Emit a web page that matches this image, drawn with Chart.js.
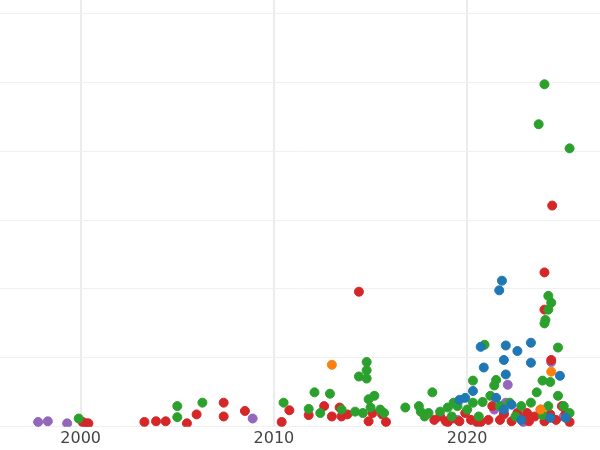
<!DOCTYPE html><html><head><script src="https://cdn.jsdelivr.net/npm/chart.js"></script>
<style>body{margin:0;overflow:hidden}#w{width:612px;height:456px;margin-left:-6px;margin-top:-6px}</style></head><body><div id="w"><canvas id="c"></canvas></div>
<script>
const xTicks=[2000,2010,2020];
const blue=[[2021.8,2.12],[2021.66,1.98],[2020.7,1.16],[2020.86,0.86],[2022.0,1.18],[2021.9,0.97],[2022.0,0.76],[2022.6,1.1],[2023.3,1.22],[2023.3,0.93],[2024.8,0.74],[2020.3,0.52],[2019.6,0.39],[2019.9,0.42],[2021.5,0.42],[2022.3,0.32],[2022.8,0.1],[2024.3,0.13],[2025.1,0.13],[2021.9,0.25]];
const orange=[[2013.0,0.9],[2024.35,0.8],[2023.8,0.25]];
const green=[[2024.0,4.97],[2023.7,4.39],[2025.3,4.04],[2024.2,1.9],[2024.35,1.8],[2024.0,1.5],[2024.05,1.55],[2024.2,1.7],[2024.7,1.15],[2020.9,1.19],[2014.8,0.94],[2014.8,0.82],[2014.8,0.7],[2014.4,0.73],[2020.3,0.67],[2021.5,0.68],[2023.9,0.67],[2024.3,0.65],[2018.2,0.5],[2017.6,0.22],[2016.8,0.28],[1999.9,0.12],[2005.0,0.3],[2005.0,0.14],[2006.3,0.35],[2010.5,0.35],[2011.8,0.26],[2012.1,0.5],[2012.9,0.48],[2012.4,0.2],[2013.5,0.25],[2014.2,0.22],[2014.6,0.2],[2014.9,0.4],[2015.2,0.45],[2015.0,0.28],[2015.5,0.25],[2015.7,0.2],[2017.5,0.3],[2017.8,0.15],[2018.0,0.2],[2018.6,0.22],[2019.0,0.28],[2019.3,0.35],[2019.5,0.3],[2020.0,0.25],[2020.3,0.35],[2020.8,0.36],[2021.2,0.45],[2021.4,0.6],[2021.7,0.3],[2022.2,0.35],[2022.8,0.3],[2023.3,0.35],[2023.6,0.5],[2024.2,0.3],[2024.7,0.45],[2025.0,0.3],[2025.3,0.2],[2019.2,0.15],[2020.6,0.15],[2022.5,0.15],[2023.9,0.17]];
const red=[[2024.4,3.21],[2024.0,2.24],[2024.0,1.7],[2024.35,0.97],[2014.4,1.96],[2000.1,0.07],[2000.4,0.05],[2003.3,0.07],[2003.9,0.08],[2004.4,0.08],[2005.5,0.05],[2006.0,0.18],[2007.4,0.35],[2007.4,0.15],[2008.5,0.23],[2010.4,0.07],[2010.8,0.24],[2011.8,0.17],[2012.6,0.3],[2013.0,0.15],[2013.4,0.28],[2013.5,0.15],[2013.8,0.18],[2014.9,0.08],[2015.1,0.2],[2015.6,0.18],[2015.8,0.07],[2018.3,0.1],[2018.6,0.15],[2018.9,0.08],[2019.2,0.12],[2019.6,0.08],[2019.9,0.2],[2020.2,0.1],[2020.7,0.07],[2021.1,0.1],[2021.3,0.3],[2021.7,0.1],[2021.9,0.18],[2022.3,0.08],[2022.6,0.2],[2022.9,0.12],[2023.2,0.08],[2023.5,0.15],[2023.8,0.25],[2024.0,0.08],[2024.3,0.18],[2024.6,0.1],[2024.9,0.3],[2025.1,0.2],[2025.3,0.07],[2023.1,0.2],[2020.5,0.07],[2019.0,0.07]];
const purple=[[1997.8,0.07],[1998.3,0.08],[1999.3,0.05],[2000.3,0.05],[2008.9,0.12],[2022.1,0.61],[2024.35,0.94],[2021.4,0.25],[2022.0,0.35],[2025.0,0.15],[2022.9,0.07],[2021.9,0.2],[2019.5,0.1]];
const toPts=a=>a.map(([x,y])=>({x,y}));
const ds=[[blue,'#1f77b4'],[orange,'#ff7f0e'],[green,'#2ca02c'],[red,'#d62728'],[purple,'#9467bd']].map(([d,c])=>({data:toPts(d),backgroundColor:c,borderColor:c,pointRadius:4.5,pointHoverRadius:4.5}));
new Chart(document.getElementById('c'),{type:'scatter',data:{datasets:ds},options:{animation:false,responsive:true,maintainAspectRatio:false,
plugins:{legend:{display:false},tooltip:{enabled:false}},
scales:{x:{min:1995.8,max:2026.9,afterBuildTicks:s=>{s.ticks=xTicks.map(v=>({value:v}));},ticks:{font:{size:16,family:'DejaVu Sans'},color:'#444',padding:2,callback:v=>String(v)},grid:{color:'#ececec',lineWidth:2,drawTicks:false},border:{display:false}},
y:{min:0,max:6.2,afterBuildTicks:s=>{s.ticks=[0,1,2,3,4,5,6].map(v=>({value:v}));},ticks:{display:false},grid:{color:'#f0f0f0',drawTicks:false},border:{display:false}}}}});
</script></body></html>
